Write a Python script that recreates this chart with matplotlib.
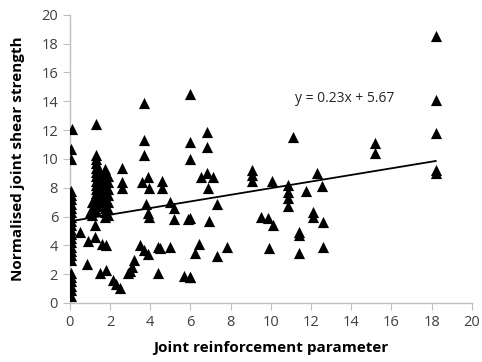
import matplotlib.pyplot as plt
import numpy as np

# Data
x_vals = [
    # x = 0 column
    0.1, 0.05, 0.05, 0.05, 0.05, 0.05, 0.05, 0.05, 0.05, 0.05, 0.05, 0.05, 0.05,
    0.05, 0.05, 0.05, 0.05, 0.05, 0.05, 0.05, 0.05, 0.05, 0.05, 0.05, 0.05, 0.05,
    # near x = 0.5-1
    0.5, 0.9, 0.85, 1.0, 1.25, 1.3,
    # x ~ 1.3 column
    1.3, 1.3, 1.3, 1.3, 1.3, 1.3, 1.3, 1.3, 1.3, 1.3, 1.3, 1.3, 1.3, 1.3,
    # x ~ 1.1 and 1.5
    1.1, 1.1, 1.1, 1.5, 1.5, 1.5, 1.5, 1.5,
    # x ~ 1.75 column
    1.75, 1.75, 1.75, 1.75, 1.75, 1.75, 1.75, 1.75, 1.75, 1.75, 1.75, 1.75,
    # x ~ 1.9 column
    1.9, 1.9, 1.9, 1.9, 1.9, 1.9, 1.9,
    # low points 1-3
    1.25, 1.6, 1.8, 1.5, 1.8, 2.15, 2.3, 2.5, 2.9, 3.0, 3.1, 3.2,
    # x ~ 2.6
    2.6, 2.6, 2.6,
    # x ~ 3.4-4.6
    3.7, 3.7, 3.7, 3.6, 3.8, 3.9, 3.95, 3.9, 3.95, 3.5, 3.7, 3.9, 4.4, 4.5,
    4.4, 4.6, 4.6, 5.0, 5.2, 5.0, 5.2, 5.9, 5.7,
    # x ~ 6-7.8
    6.0, 6.0, 6.0, 6.0, 6.8, 6.8, 6.5, 6.8, 7.1, 6.85, 7.3, 6.0, 6.9, 6.4,
    6.2, 7.3, 7.8, 6.0,
    # x ~ 9-12.6
    9.05, 9.05, 9.05, 10.05, 11.1, 10.85, 10.85, 10.85, 10.85, 11.75, 12.3,
    12.55, 9.5, 9.85, 10.1, 12.1, 12.1, 12.6, 11.4, 11.4, 9.9, 11.4, 12.6,
    # x ~ 15.2 and 18.2
    15.2, 15.2, 18.2, 18.2, 18.2, 18.2, 18.2,
]
y_vals = [
    12.1, 10.7, 10.0, 7.8, 7.5, 7.2, 6.9, 6.6, 6.3, 6.0, 5.7, 5.4, 5.1,
    4.8, 4.5, 4.2, 3.9, 3.6, 3.3, 3.0, 2.1, 1.8, 1.5, 1.2, 0.9, 0.5,
    4.9, 4.3, 2.7, 6.3, 5.4, 12.4,
    10.3, 10.0, 9.7, 9.4, 9.1, 8.8, 8.5, 8.2, 7.9, 7.6, 7.3, 7.0, 6.7, 6.4,
    7.0, 6.5, 6.1, 9.1, 8.6, 8.0, 7.4, 6.8,
    9.3, 9.0, 8.7, 8.4, 8.1, 7.8, 7.5, 7.2, 6.9, 6.6, 6.3, 6.0,
    8.8, 8.4, 7.9, 7.5, 7.0, 6.5, 6.1,
    4.6, 4.1, 4.0, 2.1, 2.3, 1.6, 1.3, 1.05, 2.1, 2.2, 2.5, 3.0,
    9.4, 8.4, 8.0,
    13.9, 11.3, 10.3, 8.4, 6.9, 8.75, 8.0, 6.25, 6.0, 4.0, 3.7, 3.4, 3.9, 3.8,
    2.1, 8.5, 8.0, 7.0, 6.6, 3.9, 5.8, 5.8, 1.9,
    14.5, 11.2, 10.0, 5.9, 11.85, 10.8, 8.75, 9.0, 8.75, 8.0, 6.85, 1.8, 5.7, 4.1,
    3.5, 3.25, 3.9, 1.8,
    9.2, 8.85, 8.5, 8.5, 11.55, 8.2, 7.7, 7.3, 6.7, 7.8, 9.0,
    8.1, 6.0, 5.9, 5.4, 6.3, 6.0, 5.6, 4.9, 4.7, 3.8, 3.5, 3.9,
    11.1, 10.4, 18.5, 14.1, 11.8, 9.2, 9.0,
]

slope = 0.23
intercept = 5.67
fit_x = np.array([0, 18.2])
eq_label = 'y = 0.23x + 5.67'

plt.rcParams['font.family'] = ['Open Sans', 'DejaVu Sans']

fig = plt.figure(figsize=(4.82, 3.62), dpi=100)
ax = fig.add_axes([0.145, 0.163, 0.834, 0.796])

ax.scatter(x_vals, y_vals, marker='^', s=65, color='black', zorder=3, linewidths=0)
ax.plot(fit_x, slope * fit_x + intercept, color='black', linewidth=1.3, zorder=2)
ax.text(11.2, 14.2, eq_label, fontsize=10, color='#262626', va='center')

ax.set_xlim(0, 20)
ax.set_ylim(0, 20)
ax.set_xticks(range(0, 21, 2))
ax.set_yticks(range(0, 21, 2))

for side in ['top', 'right']:
    ax.spines[side].set_visible(False)
for side in ['left', 'bottom']:
    ax.spines[side].set_color('#bfbfbf')
    ax.spines[side].set_linewidth(1)
ax.tick_params(direction='out', length=5, color='#bfbfbf', labelcolor='#404040', labelsize=10.5)

ax.set_xlabel('Joint reinforcement parameter', fontsize=11, fontweight='bold', labelpad=8)
ax.set_ylabel('Normalised joint shear strength', fontsize=11, fontweight='bold', labelpad=12)

plt.savefig('out.png', dpi=100)
